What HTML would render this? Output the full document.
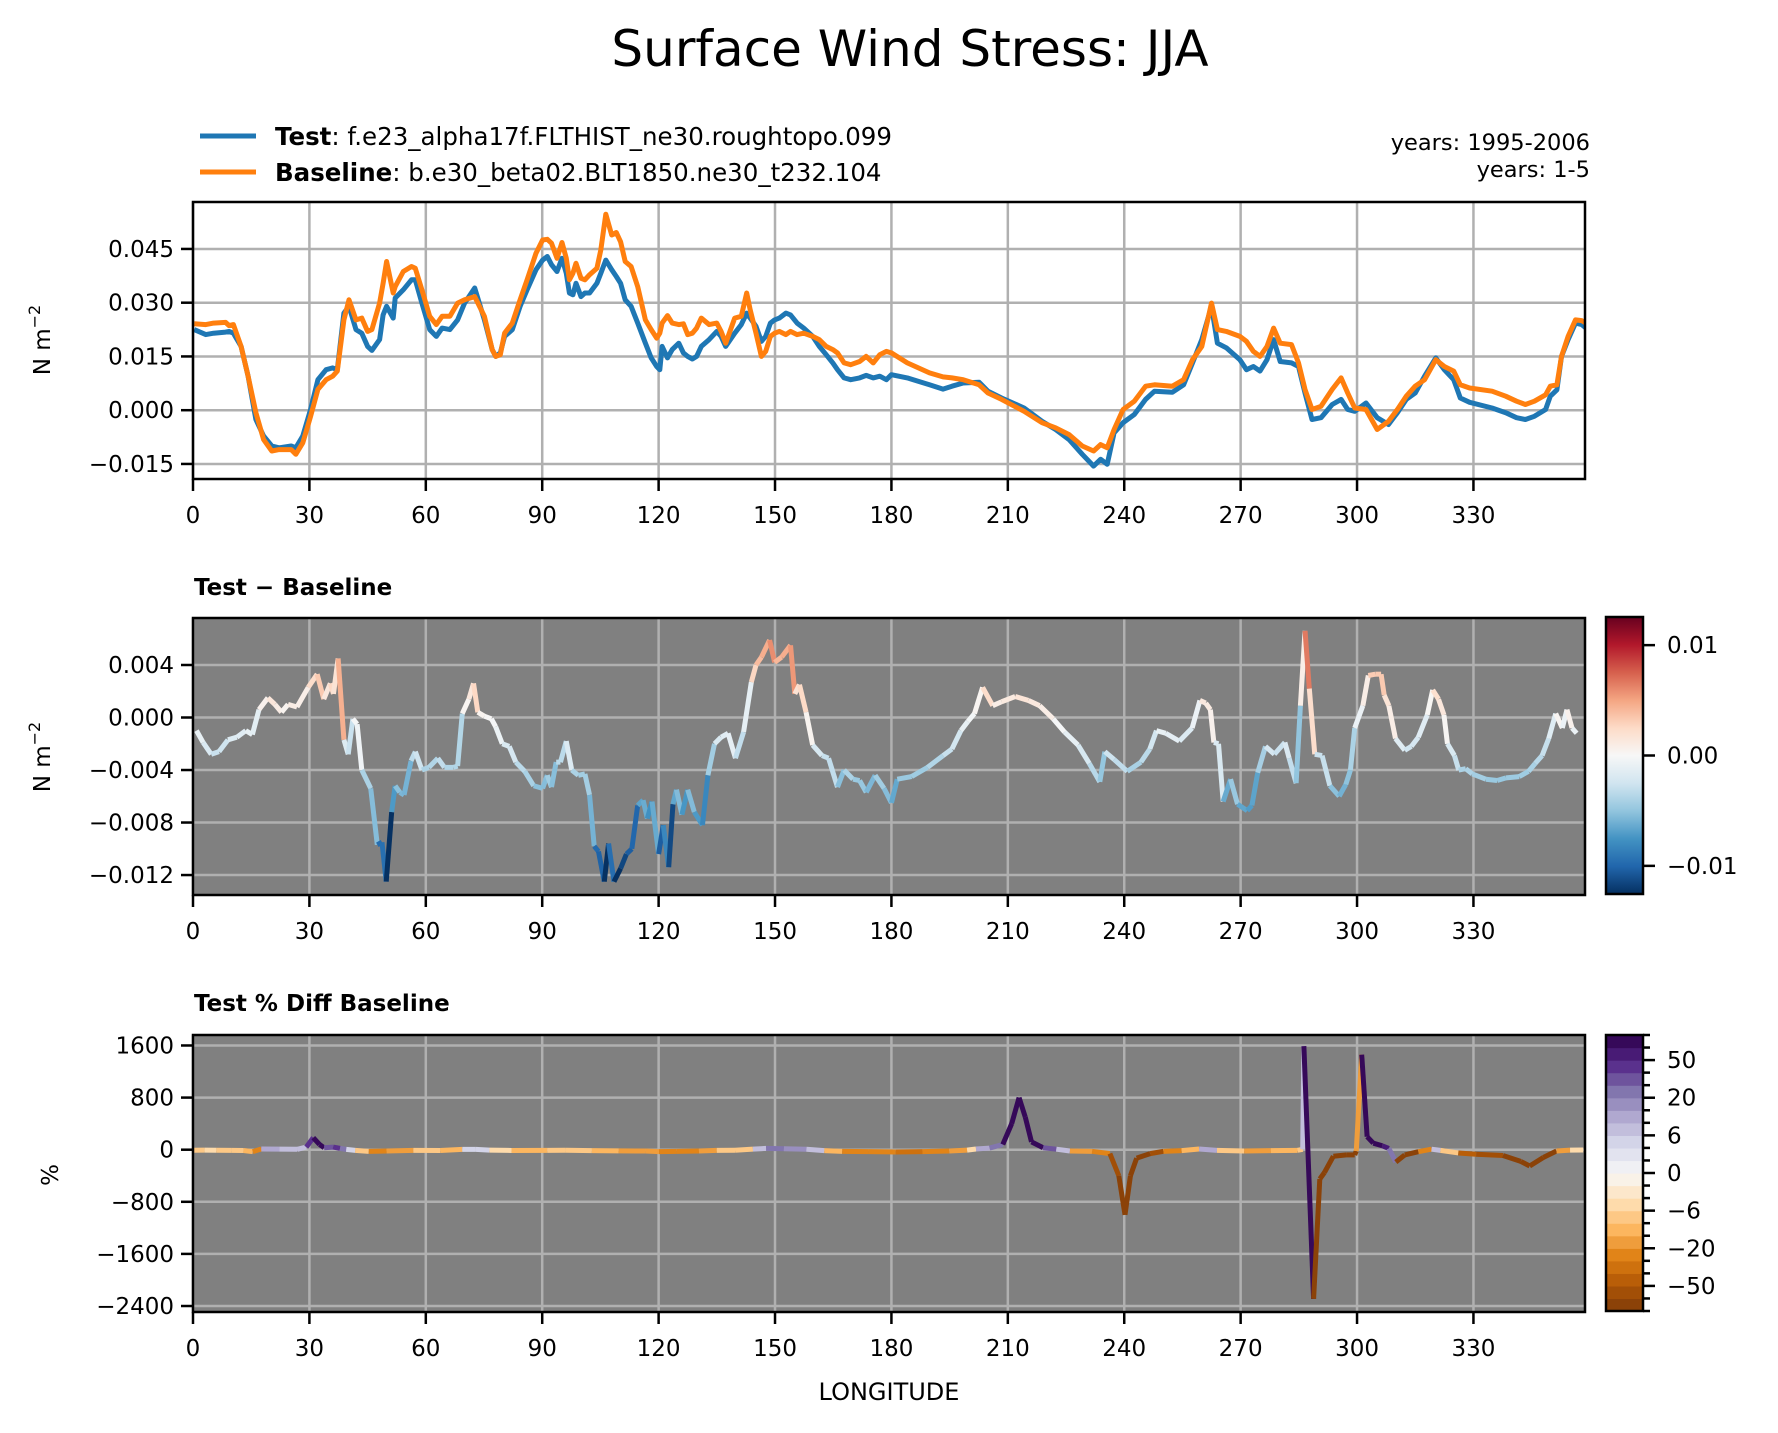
<!DOCTYPE html>
<html><head><meta charset="utf-8"><title>Surface Wind Stress: JJA</title>
<style>
html,body{margin:0;padding:0;background:#fff;}
svg{display:block;font-family:"DejaVu Sans","Liberation Sans",sans-serif;}
</style></head>
<body>
<svg id="fig" width="1778" height="1433" viewBox="0 0 1778 1433" xmlns="http://www.w3.org/2000/svg">
<rect x="0" y="0" width="1778" height="1433" fill="#fff"/>
<text x="910" y="66" font-size="50" text-anchor="middle">Surface Wind Stress: JJA</text>
<g>
<line x1="200" y1="136" x2="256" y2="136" stroke="#1f77b4" stroke-width="5"/>
<text x="275" y="145" font-size="24.5"><tspan font-weight="bold">Test</tspan>: f.e23_alpha17f.FLTHIST_ne30.roughtopo.099</text>
<line x1="200" y1="172" x2="256" y2="172" stroke="#ff7f0e" stroke-width="5"/>
<text x="275" y="181" font-size="24.5"><tspan font-weight="bold">Baseline</tspan>: b.e30_beta02.BLT1850.ne30_t232.104</text>
</g>
<text x="1590" y="150" font-size="22.5" text-anchor="end">years: 1995-2006</text>
<text x="1590" y="177" font-size="22.5" text-anchor="end">years: 1-5</text>
<text x="194" y="595" font-size="23" font-weight="bold">Test − Baseline</text>
<text x="194" y="1011" font-size="23" font-weight="bold">Test % Diff Baseline</text>
<text x="889" y="1400" font-size="24" text-anchor="middle">LONGITUDE</text>
<text transform="translate(50,340) rotate(-90)" font-size="23" text-anchor="middle">N m<tspan font-size="16" dy="-10">−2</tspan></text>
<text transform="translate(50,757) rotate(-90)" font-size="23" text-anchor="middle">N m<tspan font-size="16" dy="-10">−2</tspan></text>
<text transform="translate(58,1175) rotate(-90)" font-size="23" text-anchor="middle">%</text>
</svg>
<script>
// ---------- data ----------
const lon1 = [0.3,3.3,5.3,8.4,9.3,10.4,12.4,14.2,16.2,18.2,20.3,22.2,25.3,26.5,28.3,30.3,32.2,34.3,36.0,37.2,38.9,40.2,42.0,43.5,45.0,46.1,48.1,49.0,49.9,51.6,52.1,54.2,56.3,57.3,59.0,61.0,62.7,64.2,66.2,68.2,70.0,72.6,75.1,77.1,78.0,79.2,80.3,82.3,84.3,86.1,88.4,90.1,91.3,92.4,93.8,95.1,96.2,97.0,97.9,98.7,100.0,101.0,102.2,104.1,105.1,106.4,107.9,109.1,110.2,111.4,112.9,114.6,116.6,118.1,119.5,120.3,120.9,122.3,123.5,125.2,126.4,127.5,128.7,129.8,131.0,133.0,135.0,136.1,137.3,139.6,141.3,142.7,143.6,145.1,146.5,147.6,148.8,149.9,151.1,152.8,154.0,155.7,157.4,159.7,161.4,163.2,164.9,166.1,167.8,169.5,171.8,173.5,175.3,177.0,178.7,180.0,184.1,189.8,193.3,195.6,198.5,202.6,204.9,208.4,214.2,218.8,222.3,225.8,229.2,232.1,233.9,235.6,237.4,239.7,242.6,245.5,247.8,252.4,255.3,257.6,260.0,262.5,264.0,266.3,269.8,271.5,273.3,275.0,276.8,278.5,280.2,283.1,284.9,286.6,288.4,290.7,293.6,295.9,297.6,299.4,302.3,305.2,308.1,310.4,312.7,315.0,317.4,320.3,322.5,324.9,326.6,329.0,334.8,338.3,341.1,343.4,345.7,348.6,349.8,351.5,352.7,354.4,356.3,357.9,359.0];
const testVals = [0.0225,0.0211,0.0215,0.0218,0.0220,0.0215,0.0178,0.0095,-0.0026,-0.0072,-0.0100,-0.0105,-0.0100,-0.0105,-0.0072,0.0002,0.0085,0.0113,0.0118,0.0113,0.0271,0.0290,0.0225,0.0215,0.0178,0.0167,0.0197,0.0266,0.0290,0.0257,0.0313,0.0336,0.0364,0.0364,0.0299,0.0225,0.0206,0.0229,0.0225,0.0252,0.0299,0.0341,0.0252,0.0169,0.0150,0.0160,0.0206,0.0225,0.0290,0.0336,0.0392,0.0419,0.0429,0.0406,0.0387,0.0424,0.0382,0.0327,0.0322,0.0354,0.0317,0.0327,0.0327,0.0354,0.0382,0.0419,0.0392,0.0373,0.0354,0.0308,0.0290,0.0243,0.0187,0.0146,0.0122,0.0113,0.0178,0.0146,0.0169,0.0187,0.0160,0.0150,0.0143,0.0150,0.0178,0.0197,0.0220,0.0206,0.0178,0.0215,0.0239,0.0271,0.0257,0.0234,0.0192,0.0206,0.0243,0.0252,0.0257,0.0271,0.0266,0.0243,0.0229,0.0206,0.0178,0.0155,0.0132,0.0113,0.0090,0.0085,0.0090,0.0097,0.0090,0.0095,0.0085,0.0099,0.0090,0.0071,0.0059,0.0067,0.0076,0.0078,0.0053,0.0034,0.0006,-0.0031,-0.0054,-0.0082,-0.0123,-0.0156,-0.0137,-0.0151,-0.0063,-0.0035,-0.0012,0.0030,0.0053,0.0050,0.0071,0.0132,0.0197,0.0290,0.0187,0.0174,0.0141,0.0113,0.0122,0.0109,0.0141,0.0197,0.0136,0.0132,0.0122,0.0048,-0.0026,-0.0021,0.0016,0.0030,0.0002,-0.0003,0.0020,-0.0021,-0.0040,-0.0007,0.0030,0.0048,0.0095,0.0146,0.0113,0.0085,0.0034,0.0022,0.0006,-0.0007,-0.0021,-0.0026,-0.0017,0.0002,0.0039,0.0057,0.0150,0.0197,0.0243,0.0239,0.0229];
const baseVals = [0.0241,0.0239,0.0243,0.0245,0.0236,0.0239,0.0178,0.0095,-0.0007,-0.0082,-0.0114,-0.0110,-0.0110,-0.0123,-0.0091,-0.0017,0.0058,0.0085,0.0095,0.0109,0.0252,0.0308,0.0252,0.0257,0.0220,0.0225,0.0299,0.0354,0.0415,0.0327,0.0345,0.0387,0.0401,0.0396,0.0336,0.0262,0.0239,0.0262,0.0262,0.0299,0.0308,0.0317,0.0262,0.0169,0.0150,0.0155,0.0215,0.0243,0.0308,0.0364,0.0438,0.0475,0.0477,0.0466,0.0424,0.0468,0.0424,0.0364,0.0382,0.0410,0.0368,0.0364,0.0378,0.0396,0.0447,0.0547,0.0489,0.0496,0.0470,0.0415,0.0401,0.0345,0.0252,0.0225,0.0201,0.0215,0.0243,0.0264,0.0243,0.0239,0.0241,0.0211,0.0215,0.0229,0.0257,0.0239,0.0243,0.0220,0.0187,0.0257,0.0262,0.0327,0.0280,0.0215,0.0150,0.0164,0.0206,0.0215,0.0220,0.0211,0.0220,0.0211,0.0215,0.0206,0.0197,0.0178,0.0169,0.0160,0.0132,0.0127,0.0136,0.0150,0.0132,0.0155,0.0164,0.0160,0.0132,0.0104,0.0093,0.0090,0.0085,0.0071,0.0048,0.0030,-0.0003,-0.0035,-0.0049,-0.0068,-0.0100,-0.0114,-0.0096,-0.0105,-0.0054,0.0002,0.0025,0.0067,0.0071,0.0067,0.0085,0.0141,0.0178,0.0299,0.0225,0.0220,0.0206,0.0192,0.0164,0.0150,0.0178,0.0229,0.0187,0.0183,0.0132,0.0058,0.0002,0.0011,0.0058,0.0090,0.0048,0.0006,0.0002,-0.0054,-0.0031,0.0002,0.0039,0.0067,0.0085,0.0141,0.0122,0.0109,0.0071,0.0062,0.0053,0.0039,0.0025,0.0016,0.0025,0.0043,0.0067,0.0071,0.0150,0.0206,0.0252,0.0250,0.0243];

const lon2 = [0.9,2.6,4.7,6.7,9.0,11.3,13.6,15.3,17.0,19.3,21.1,22.8,24.5,26.8,29.7,32.0,33.7,35.4,36.2,37.4,38.9,40.0,41.2,42.3,43.5,45.8,47.5,48.7,49.8,51.2,52.1,53.3,54.4,56.2,57.3,59.0,60.8,63.1,64.8,67.1,68.2,69.4,71.1,72.3,73.4,75.1,76.9,78.0,79.7,81.5,83.2,85.5,87.8,90.1,91.3,92.4,93.6,94.7,96.2,97.6,99.3,101.0,102.2,103.4,104.5,106.0,107.1,108.5,110.2,111.7,113.1,114.6,116.0,117.1,118.3,120.0,121.2,122.6,123.7,124.6,126.0,127.5,129.2,131.3,132.7,134.4,136.1,137.9,139.8,141.9,143.9,145.1,146.5,148.6,149.9,151.7,154.0,155.1,156.3,158.0,159.7,162.1,163.8,166.1,167.8,170.1,171.8,173.5,175.8,178.1,180.0,181.5,185.2,189.3,193.3,195.6,197.9,199.7,201.4,203.5,206.1,208.4,211.9,215.3,218.2,221.7,224.6,228.1,231.0,233.7,235.0,237.4,240.8,244.3,246.6,248.3,250.7,254.2,257.5,259.5,261.0,262.2,263.1,264.3,265.5,267.4,269.2,271.7,272.9,274.4,276.4,278.7,281.4,282.5,284.3,285.4,286.6,287.7,289.1,291.0,293.0,295.4,297.1,298.3,299.4,301.5,302.9,304.7,306.2,307.0,308.2,309.9,312.3,314.0,315.8,318.1,319.5,321.0,322.4,323.3,325.1,326.2,328.0,329.7,333.2,336.1,338.4,341.8,344.2,345.9,347.7,349.4,351.2,352.9,354.1,355.4,356.6,358.7];
const diffVals = [-0.0010,-0.0019,-0.0028,-0.0026,-0.0017,-0.0015,-0.0010,-0.0013,0.0006,0.0015,0.0010,0.0004,0.0010,0.0008,0.0023,0.0033,0.0014,0.0026,0.0018,0.0045,-0.0017,-0.0028,-0.0001,-0.0005,-0.0040,-0.0054,-0.0097,-0.0095,-0.0125,-0.0072,-0.0052,-0.0057,-0.0059,-0.0033,-0.0026,-0.0040,-0.0038,-0.0031,-0.0038,-0.0038,-0.0037,0.0003,0.0014,0.0026,0.0004,0.0001,-0.0001,-0.0007,-0.0020,-0.0022,-0.0034,-0.0041,-0.0052,-0.0054,-0.0044,-0.0053,-0.0034,-0.0034,-0.0018,-0.0040,-0.0044,-0.0043,-0.0059,-0.0098,-0.0102,-0.0125,-0.0096,-0.0125,-0.0115,-0.0104,-0.0100,-0.0067,-0.0063,-0.0077,-0.0064,-0.0104,-0.0082,-0.0114,-0.0066,-0.0055,-0.0074,-0.0055,-0.0072,-0.0082,-0.0044,-0.0020,-0.0015,-0.0012,-0.0031,-0.0011,0.0027,0.0040,0.0046,0.0059,0.0042,0.0046,0.0055,0.0018,0.0025,0.0004,-0.0021,-0.0029,-0.0031,-0.0053,-0.0040,-0.0047,-0.0048,-0.0057,-0.0044,-0.0054,-0.0065,-0.0047,-0.0045,-0.0038,-0.0029,-0.0024,-0.0010,-0.0003,0.0003,0.0023,0.0009,0.0012,0.0016,0.0013,0.0009,-0.0001,-0.0011,-0.0021,-0.0035,-0.0049,-0.0026,-0.0032,-0.0041,-0.0034,-0.0024,-0.0010,-0.0012,-0.0018,-0.0008,0.0013,0.0011,0.0006,-0.0019,-0.0020,-0.0064,-0.0047,-0.0066,-0.0071,-0.0067,-0.0042,-0.0022,-0.0028,-0.0019,-0.0031,-0.0050,0.0009,0.0066,0.0022,-0.0028,-0.0029,-0.0052,-0.0060,-0.0051,-0.0040,-0.0008,0.0009,0.0032,0.0033,0.0033,0.0017,0.0009,-0.0016,-0.0025,-0.0022,-0.0015,0.0002,0.0021,0.0014,0.0002,-0.0020,-0.0029,-0.0040,-0.0039,-0.0043,-0.0047,-0.0048,-0.0046,-0.0045,-0.0041,-0.0035,-0.0029,-0.0016,0.0003,-0.0008,0.0006,-0.0008,-0.0012];

const lon3 = [0,3,6,10,13,15.4,17.6,22.3,26.9,29.2,31.0,32.6,33.8,36.1,37.9,39.5,41.8,45.3,49.9,56.8,63.7,69.4,72.9,76.4,82.1,91.3,95.9,102.8,109.7,116.6,120.1,124.7,130.4,135.0,139.7,144.3,147.7,152.3,158.1,162.7,167.3,174.2,181.1,188.0,194.9,199.5,201.8,205.3,208.7,211.0,212.9,214.5,216.1,219.1,222.5,226.0,231.7,236.3,238.6,240.2,241.6,243.2,246.7,250.1,254.8,259.3,263.9,270.9,277.8,284.7,286.0,286.3,288.8,290.4,291.6,293.9,297.3,299.4,299.8,301.2,302.6,304.2,306.5,308.2,310.0,312.3,315.8,319.2,321.5,326.1,330.7,337.6,342.2,344.5,348.0,351.4,354.9,358.3];
const pctVals = [-8,-6,-8,-10,-12,-30,10,8,6,40,185,80,30,40,20,5,-10,-25,-20,-10,-12,5,4,-6,-12,-10,-8,-15,-18,-20,-30,-25,-20,-10,-8,8,20,15,6,-15,-25,-30,-35,-30,-20,-6,10,25,80,400,800,500,120,30,8,-20,-25,-60,-400,-1000,-400,-130,-60,-25,-15,10,-10,-20,-15,-10,6,1590,-2290,-450,-350,-100,-80,-80,-20,1460,200,100,60,20,-190,-80,-30,8,-10,-50,-70,-90,-180,-250,-120,-20,-6,-4];

const xTickVals = [0,30,60,90,120,150,180,210,240,270,300,330];
const y1Ticks = [0.045,0.030,0.015,0.000,-0.015];
const y1Labels = ["0.045","0.030","0.015","0.000","\u22120.015"];
const y2Ticks = [0.004,0.000,-0.004,-0.008,-0.012];
const y2Labels = ["0.004","0.000","\u22120.004","\u22120.008","\u22120.012"];
const y3Ticks = [1600,800,0,-800,-1600,-2400];
const y3Labels = ["1600","800","0","\u2212800","\u22121600","\u22122400"];
const cb2Ticks = [0.01,0.0,-0.01];
const cb2Labels = ["0.01","0.00","\u22120.01"];
const pctLevels = [-100,-75,-50,-40,-30,-20,-15,-10,-6,-4,-2,0,2,4,6,10,15,20,30,40,50,75,100];
const cb3Labeled = [50,20,6,0,-6,-20,-50];
const cb3Labels = ["50","20","6","0","\u22126","\u221220","\u221250"];

// ---------- layout ----------
const NS = "http://www.w3.org/2000/svg";
const svg = document.getElementById('fig');
const L = 193, R = 1585, XMAX = 358.75;
const P1 = {top:202, bot:479, ymin:-0.0192, ymax:0.0581, bg:'#ffffff'};
const P2 = {top:618, bot:895, ymin:-0.01352, ymax:0.00758, bg:'#808080'};
const P3 = {top:1035, bot:1312, ymin:-2492, ymax:1761, bg:'#808080'};
const CBX = 1606, CBW = 37;
const CB2 = {top:617, bot:894, vmin:-0.01255, vmax:0.01255};
const CB3 = {top:1035, bot:1311};

function xs(v){ return L + v / XMAX * (R - L); }
function ysf(p){ return v => p.bot - (v - p.ymin) / (p.ymax - p.ymin) * (p.bot - p.top); }

function el(tag, attrs, parent){
  const e = document.createElementNS(NS, tag);
  for (const k in attrs) e.setAttribute(k, attrs[k]);
  (parent || svg).appendChild(e);
  return e;
}
function hex(h){ return [parseInt(h.slice(1,3),16),parseInt(h.slice(3,5),16),parseInt(h.slice(5,7),16)]; }
function cmap(anchors, t){
  t = Math.max(0, Math.min(1, t));
  const n = anchors.length - 1, f = t * n, i = Math.min(Math.floor(f), n - 1), u = f - i;
  const a = hex(anchors[i]), b = hex(anchors[i+1]);
  return 'rgb(' + a.map((c,k)=>Math.round(c + (b[k]-c)*u)).join(',') + ')';
}
const RDBU_R = ['#053061','#2166ac','#4393c3','#92c5de','#d1e5f0','#f7f7f7','#fddbc7','#f4a582','#d6604d','#b2182b','#67001f'];
const PUOR = ['#7f3b08','#b35806','#e08214','#fdb863','#fee0b6','#f7f7f7','#d8daeb','#b2abd2','#8073ac','#542788','#2d004b'];
const NB = pctLevels.length - 1;
function boxColor(i){ return cmap(PUOR, (i + 0.5) / NB); }
function pctColor(v){
  let i = 0;
  while (i < NB - 1 && v >= pctLevels[i+1]) i++;
  return boxColor(i);
}

function axesFrame(p, name, yt, yl){
  const ys = ysf(p);
  const g = el('g', {});
  
  
  const bg = el('rect', {x:L, y:p.top, width:R-L, height:p.bot-p.top, fill:p.bg}, g);
  
  
  const grid = el('g', {stroke:'#b0b0b0', 'stroke-width':2.5}, g);
  
  
  xTickVals.forEach(v => { el('line', {x1:xs(v), x2:xs(v), y1:p.top, y2:p.bot}, grid); });
  yt.forEach(v => { el('line', {x1:L, x2:R, y1:ys(v), y2:ys(v)}, grid); });
  const xt = el('g', {}, g);
  
  
  xTickVals.forEach(v => {
    el('line', {x1:xs(v), x2:xs(v), y1:p.bot, y2:p.bot+12, stroke:'#000', 'stroke-width':2.5}, xt);
    const t = el('text', {x:xs(v), y:p.bot+44, 'font-size':23, 'text-anchor':'middle'}, xt);
    t.textContent = String(v);
  });
  const ytg = el('g', {}, g);
  
  
  yt.forEach((v,i) => {
    el('line', {x1:L-12, x2:L, y1:ys(v), y2:ys(v), stroke:'#000', 'stroke-width':2.5}, ytg);
    const t = el('text', {x:L-19, y:ys(v)+8, 'font-size':23, 'text-anchor':'end'}, ytg);
    t.textContent = yl[i];
  });
  return {g, ys};
}
function spine(p, name){
  const s = el('rect', {x:L, y:p.top, width:R-L, height:p.bot-p.top, fill:'none', stroke:'#000', 'stroke-width':2.5});
  
  
}

// ---- Panel 1 ----
(function(){
  const a = axesFrame(P1, 'top-panel', y1Ticks, y1Labels);
  const clip = el('clipPath', {id:'c1'}); el('rect', {x:L, y:P1.top, width:R-L, height:P1.bot-P1.top}, clip);
  const mk = (vals) => {
    const n = Math.min(lon1.length, vals.length), pts = [];
    for (let i = 0; i < n; i++) pts.push(xs(lon1[i]).toFixed(1)+','+a.ys(vals[i]).toFixed(1));
    return pts.join(' ');
  };
  const t = el('polyline', {points:mk(testVals), fill:'none', stroke:'#1f77b4', 'stroke-width':5, 'stroke-linejoin':'round', 'clip-path':'url(#c1)'});
  
  
  const b = el('polyline', {points:mk(baseVals), fill:'none', stroke:'#ff7f0e', 'stroke-width':5, 'stroke-linejoin':'round', 'clip-path':'url(#c1)'});
  
  
  spine(P1, 'top-panel');
})();

// ---- Panel 2 ----
(function(){
  const a = axesFrame(P2, 'diff-panel', y2Ticks, y2Labels);
  const clip = el('clipPath', {id:'c2'}); el('rect', {x:L, y:P2.top, width:R-L, height:P2.bot-P2.top}, clip);
  const g = el('g', {'stroke-width':5, 'stroke-linecap':'butt', 'clip-path':'url(#c2)'});
  
  
  const n = Math.min(lon2.length, diffVals.length);
  for (let i = 0; i < n - 1; i++){
    const c = cmap(RDBU_R, (diffVals[i] - CB2.vmin) / (CB2.vmax - CB2.vmin));
    const s = el('line', {x1:xs(lon2[i]), y1:a.ys(diffVals[i]), x2:xs(lon2[i+1]), y2:a.ys(diffVals[i+1]), stroke:c}, g);
    
    
  }
  spine(P2, 'diff-panel');
  const cb = el('g', {});
  
  
  const defs = el('defs', {}, cb);
  const grad = el('linearGradient', {id:'gRdBu', x1:0, y1:1, x2:0, y2:0}, defs);
  RDBU_R.forEach((c,i)=> el('stop', {offset:(i/(RDBU_R.length-1)), 'stop-color':c}, grad));
  el('rect', {x:CBX, y:CB2.top, width:CBW, height:CB2.bot-CB2.top, fill:'url(#gRdBu)', stroke:'#000', 'stroke-width':2.5}, cb);
  const cys = v => CB2.bot - (v - CB2.vmin)/(CB2.vmax-CB2.vmin)*(CB2.bot-CB2.top);
  cb2Ticks.forEach((v,i)=>{
    el('line', {x1:CBX+CBW, x2:CBX+CBW+12, y1:cys(v), y2:cys(v), stroke:'#000', 'stroke-width':2.5}, cb);
    const t = el('text', {x:CBX+CBW+24, y:cys(v)+8, 'font-size':23}, cb);
    t.textContent = cb2Labels[i];
  });
})();

// ---- Panel 3 ----
(function(){
  const a = axesFrame(P3, 'pctdiff-panel', y3Ticks, y3Labels);
  const clip = el('clipPath', {id:'c3'}); el('rect', {x:L, y:P3.top, width:R-L, height:P3.bot-P3.top}, clip);
  const g = el('g', {'stroke-width':5, 'stroke-linecap':'butt', 'clip-path':'url(#c3)'});
  
  
  const n = Math.min(lon3.length, pctVals.length);
  for (let i = 0; i < n - 1; i++){
    const s = el('line', {x1:xs(lon3[i]), y1:a.ys(pctVals[i]), x2:xs(lon3[i+1]), y2:a.ys(pctVals[i+1]), stroke:pctColor(pctVals[i])}, g);
    
    
  }
  spine(P3, 'pctdiff-panel');
  const cb = el('g', {});
  
  
  const bh = (CB3.bot - CB3.top) / NB;
  for (let i = 0; i < NB; i++){
    el('rect', {x:CBX, y:CB3.bot - (i+1)*bh, width:CBW, height:bh+0.6, fill:boxColor(i)}, cb);
  }
  el('rect', {x:CBX, y:CB3.top, width:CBW, height:CB3.bot-CB3.top, fill:'none', stroke:'#000', 'stroke-width':2.5}, cb);
  pctLevels.forEach((v,i)=>{
    const y = CB3.bot - i*bh;
    const li = cb3Labeled.indexOf(v);
    el('line', {x1:CBX+CBW, x2:CBX+CBW+(li>=0?12:7), y1:y, y2:y, stroke:'#000', 'stroke-width':2.5}, cb);
    if (li >= 0){
      const t = el('text', {x:CBX+CBW+24, y:y+8, 'font-size':23}, cb);
      t.textContent = cb3Labels[li];
    }
  });
})();
</script>
</body></html>
